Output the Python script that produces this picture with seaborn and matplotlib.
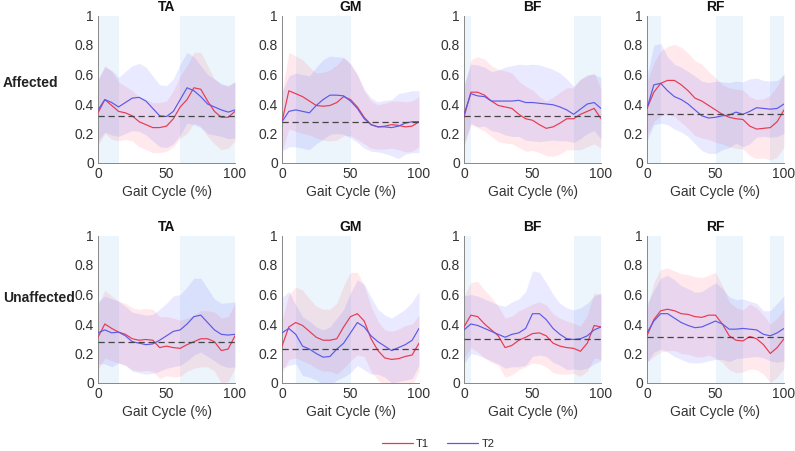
import numpy as np
import pandas as pd
import seaborn as sns
import matplotlib
matplotlib.use("Agg")
import matplotlib.pyplot as plt

# gait cycle samples (%)
cycle = [0, 5, 10, 15, 20, 25, 30, 35, 40, 45, 50, 55, 60, 65, 70, 75, 80, 85, 90, 95, 100]
muscles = ["TA", "GM", "BF", "RF"]
rows = ["Affected", "Unaffected"]

# ---- Affected ----
ta_aff_t1 = [0.34, 0.43, 0.39, 0.35, 0.34, 0.32, 0.28, 0.26, 0.24, 0.24, 0.25, 0.30, 0.38, 0.43, 0.51, 0.50, 0.42, 0.35, 0.31, 0.31, 0.35]
ta_aff_t1_sd = [0.22, 0.23, 0.23, 0.20, 0.18, 0.17, 0.17, 0.17, 0.17, 0.17, 0.17, 0.19, 0.21, 0.23, 0.24, 0.25, 0.24, 0.22, 0.22, 0.21, 0.20]
ta_aff_t2 = [0.36, 0.43, 0.41, 0.38, 0.41, 0.44, 0.445, 0.42, 0.37, 0.32, 0.315, 0.35, 0.43, 0.51, 0.49, 0.45, 0.40, 0.38, 0.36, 0.345, 0.36]
ta_aff_t2_sd = [0.21, 0.22, 0.22, 0.20, 0.21, 0.22, 0.23, 0.23, 0.22, 0.21, 0.21, 0.22, 0.24, 0.24, 0.23, 0.21, 0.20, 0.19, 0.18, 0.18, 0.19]

gm_aff_t1 = [0.28, 0.49, 0.47, 0.45, 0.42, 0.39, 0.385, 0.39, 0.41, 0.45, 0.43, 0.38, 0.31, 0.26, 0.245, 0.25, 0.26, 0.255, 0.245, 0.25, 0.28]
gm_aff_t1_sd = [0.20, 0.26, 0.255, 0.25, 0.23, 0.22, 0.23, 0.24, 0.255, 0.265, 0.245, 0.22, 0.18, 0.16, 0.15, 0.155, 0.16, 0.165, 0.17, 0.17, 0.17]
gm_aff_t2 = [0.28, 0.35, 0.36, 0.35, 0.34, 0.39, 0.43, 0.46, 0.46, 0.455, 0.42, 0.37, 0.30, 0.26, 0.245, 0.245, 0.24, 0.25, 0.27, 0.28, 0.28]
gm_aff_t2_sd = [0.20, 0.24, 0.25, 0.25, 0.25, 0.26, 0.27, 0.265, 0.26, 0.26, 0.25, 0.23, 0.20, 0.18, 0.17, 0.18, 0.19, 0.22, 0.21, 0.21, 0.21]

bf_aff_t1 = [0.31, 0.48, 0.48, 0.46, 0.42, 0.39, 0.38, 0.37, 0.33, 0.30, 0.29, 0.26, 0.235, 0.245, 0.27, 0.30, 0.30, 0.33, 0.35, 0.37, 0.30]
bf_aff_t1_sd = [0.20, 0.22, 0.24, 0.245, 0.24, 0.245, 0.245, 0.24, 0.225, 0.22, 0.205, 0.19, 0.185, 0.20, 0.21, 0.21, 0.21, 0.24, 0.24, 0.24, 0.20]
bf_aff_t2 = [0.33, 0.47, 0.455, 0.45, 0.42, 0.42, 0.42, 0.42, 0.425, 0.41, 0.41, 0.405, 0.40, 0.395, 0.38, 0.36, 0.33, 0.365, 0.40, 0.41, 0.37]
bf_aff_t2_sd = [0.20, 0.20, 0.21, 0.20, 0.20, 0.21, 0.23, 0.24, 0.245, 0.255, 0.26, 0.26, 0.25, 0.24, 0.23, 0.21, 0.19, 0.20, 0.20, 0.19, 0.21]

rf_aff_t1 = [0.37, 0.48, 0.54, 0.56, 0.56, 0.53, 0.49, 0.44, 0.42, 0.39, 0.36, 0.33, 0.31, 0.30, 0.295, 0.25, 0.23, 0.235, 0.24, 0.28, 0.36]
rf_aff_t1_sd = [0.18, 0.20, 0.22, 0.23, 0.245, 0.255, 0.255, 0.255, 0.25, 0.23, 0.22, 0.20, 0.20, 0.20, 0.20, 0.20, 0.20, 0.20, 0.22, 0.24, 0.25]
rf_aff_t2 = [0.37, 0.53, 0.54, 0.49, 0.45, 0.43, 0.40, 0.36, 0.32, 0.305, 0.31, 0.32, 0.325, 0.345, 0.33, 0.35, 0.375, 0.37, 0.365, 0.37, 0.40]
rf_aff_t2_sd = [0.22, 0.27, 0.27, 0.23, 0.22, 0.22, 0.22, 0.23, 0.235, 0.24, 0.245, 0.23, 0.22, 0.21, 0.22, 0.22, 0.20, 0.19, 0.19, 0.19, 0.20]

# ---- Unaffected ----
ta_una_t1 = [0.31, 0.40, 0.37, 0.345, 0.33, 0.30, 0.29, 0.295, 0.29, 0.24, 0.25, 0.24, 0.235, 0.26, 0.28, 0.30, 0.30, 0.28, 0.22, 0.23, 0.32]
ta_una_t1_sd = [0.22, 0.23, 0.22, 0.21, 0.21, 0.21, 0.21, 0.21, 0.21, 0.21, 0.20, 0.20, 0.19, 0.18, 0.18, 0.19, 0.19, 0.20, 0.22, 0.22, 0.22]
ta_una_t2 = [0.34, 0.36, 0.34, 0.345, 0.32, 0.28, 0.27, 0.26, 0.265, 0.29, 0.32, 0.35, 0.36, 0.40, 0.45, 0.46, 0.41, 0.36, 0.33, 0.325, 0.33]
ta_una_t2_sd = [0.21, 0.23, 0.23, 0.21, 0.20, 0.20, 0.20, 0.20, 0.20, 0.21, 0.22, 0.24, 0.24, 0.25, 0.26, 0.25, 0.23, 0.21, 0.21, 0.22, 0.22]

gm_una_t1 = [0.25, 0.38, 0.41, 0.39, 0.35, 0.31, 0.29, 0.29, 0.30, 0.38, 0.45, 0.47, 0.42, 0.30, 0.22, 0.17, 0.16, 0.165, 0.18, 0.19, 0.27]
gm_una_t1_sd = [0.18, 0.22, 0.24, 0.24, 0.22, 0.21, 0.21, 0.21, 0.24, 0.28, 0.30, 0.28, 0.24, 0.22, 0.20, 0.19, 0.19, 0.20, 0.21, 0.21, 0.19]
gm_una_t2 = [0.34, 0.37, 0.33, 0.25, 0.23, 0.20, 0.175, 0.18, 0.23, 0.27, 0.34, 0.41, 0.38, 0.32, 0.28, 0.25, 0.22, 0.24, 0.26, 0.29, 0.37]
gm_una_t2_sd = [0.24, 0.25, 0.20, 0.20, 0.19, 0.18, 0.185, 0.20, 0.21, 0.23, 0.27, 0.29, 0.29, 0.26, 0.22, 0.21, 0.22, 0.23, 0.24, 0.26, 0.25]

bf_una_t1 = [0.38, 0.46, 0.45, 0.40, 0.36, 0.32, 0.24, 0.255, 0.29, 0.31, 0.335, 0.34, 0.32, 0.27, 0.25, 0.24, 0.235, 0.215, 0.27, 0.39, 0.38]
bf_una_t1_sd = [0.21, 0.22, 0.24, 0.23, 0.22, 0.20, 0.20, 0.20, 0.20, 0.20, 0.20, 0.21, 0.21, 0.20, 0.19, 0.18, 0.17, 0.17, 0.19, 0.22, 0.22]
bf_una_t2 = [0.36, 0.40, 0.39, 0.37, 0.35, 0.33, 0.31, 0.33, 0.34, 0.37, 0.47, 0.47, 0.43, 0.37, 0.33, 0.30, 0.295, 0.30, 0.32, 0.36, 0.38]
bf_una_t2_sd = [0.23, 0.20, 0.20, 0.20, 0.20, 0.20, 0.21, 0.22, 0.23, 0.25, 0.29, 0.28, 0.25, 0.23, 0.21, 0.21, 0.20, 0.21, 0.22, 0.23, 0.23]

rf_una_t1 = [0.32, 0.43, 0.49, 0.50, 0.49, 0.47, 0.465, 0.45, 0.445, 0.46, 0.46, 0.40, 0.32, 0.29, 0.285, 0.315, 0.30, 0.26, 0.20, 0.24, 0.30]
rf_una_t1_sd = [0.18, 0.25, 0.28, 0.28, 0.27, 0.27, 0.27, 0.27, 0.27, 0.27, 0.29, 0.26, 0.23, 0.22, 0.21, 0.22, 0.21, 0.20, 0.20, 0.20, 0.20]
rf_una_t2 = [0.34, 0.42, 0.47, 0.47, 0.44, 0.41, 0.39, 0.375, 0.38, 0.40, 0.42, 0.40, 0.365, 0.365, 0.37, 0.365, 0.36, 0.33, 0.32, 0.34, 0.37]
rf_una_t2_sd = [0.20, 0.21, 0.24, 0.26, 0.26, 0.25, 0.25, 0.24, 0.24, 0.25, 0.26, 0.24, 0.22, 0.20, 0.20, 0.19, 0.18, 0.16, 0.17, 0.20, 0.22]

# dashed reference level per panel (row-major)
ref_levels = [0.32, 0.28, 0.32, 0.33, 0.28, 0.23, 0.30, 0.31]
# shaded gait-phase windows per muscle
phase_windows = [[(0, 15), (60, 100)], [(10, 50)], [(0, 5), (80, 100)], [(0, 10), (50, 70), (90, 100)]]

panels = [
    (ta_aff_t1, ta_aff_t1_sd, ta_aff_t2, ta_aff_t2_sd),
    (gm_aff_t1, gm_aff_t1_sd, gm_aff_t2, gm_aff_t2_sd),
    (bf_aff_t1, bf_aff_t1_sd, bf_aff_t2, bf_aff_t2_sd),
    (rf_aff_t1, rf_aff_t1_sd, rf_aff_t2, rf_aff_t2_sd),
    (ta_una_t1, ta_una_t1_sd, ta_una_t2, ta_una_t2_sd),
    (gm_una_t1, gm_una_t1_sd, gm_una_t2, gm_una_t2_sd),
    (bf_una_t1, bf_una_t1_sd, bf_una_t2, bf_una_t2_sd),
    (rf_una_t1, rf_una_t1_sd, rf_una_t2, rf_una_t2_sd),
]

sns.set_style("white")
plt.rcParams['font.family'] = ['Liberation Sans', 'DejaVu Sans']

red = "#E8394F"
blue = "#5A5AE8"
red_fill = "#FF5A70"
blue_fill = "#5A5AFF"
span_col = "#ECF4FC"

fig = plt.figure(figsize=(7.95, 4.51), dpi=100)
lefts = [98, 282, 464, 647]
bottoms = [163, 383]
W, H = 795, 451

for i, (t1, t1_sd, t2, t2_sd) in enumerate(panels):
    r, c = divmod(i, 4)
    ax = fig.add_axes([lefts[c] / W, (H - bottoms[r]) / H, 137 / W, 147.5 / H])
    df = pd.DataFrame({"cycle": cycle, "T1": t1, "T2": t2})
    for a, b in phase_windows[c]:
        ax.axvspan(a, b, color=span_col, lw=0, zorder=0)
    for col, sd, fc in [("T1", t1_sd, red_fill), ("T2", t2_sd, blue_fill)]:
        m = np.array(df[col])
        s = np.array(sd)
        ax.fill_between(df["cycle"], m - s, m + s, color=fc, alpha=0.13, lw=0, zorder=1)
    sns.lineplot(data=df, x="cycle", y="T1", color=red, lw=0.85, ax=ax, zorder=3)
    sns.lineplot(data=df, x="cycle", y="T2", color=blue, lw=0.85, ax=ax, zorder=3)
    ax.axhline(ref_levels[i], color="#444444", ls=(0, (5, 3)), lw=0.9, zorder=4)

    ax.set_xlim(0, 100)
    ax.set_ylim(0, 1)
    ax.set_xticks([0, 50, 100])
    ax.set_yticks([0, 0.2, 0.4, 0.6, 0.8, 1])
    ax.set_yticklabels(["0", "0.2", "0.4", "0.6", "0.8", "1"])
    ax.set_title(muscles[c], fontsize=10, fontweight="bold", pad=3, color="#111111")
    ax.set_xlabel("Gait Cycle (%)", fontsize=10, color="#333333", labelpad=3)
    ax.set_ylabel("")
    for side in ["top", "right"]:
        ax.spines[side].set_visible(False)
    for side in ["left", "bottom"]:
        ax.spines[side].set_color("#888888")
        ax.spines[side].set_linewidth(0.7)
    ax.tick_params(axis="both", labelsize=10, colors="#888888", labelcolor="#333333",
                   direction="in", length=2.5, width=0.6, pad=3)

fig.text(3 / W, 1 - 83 / H, rows[0], fontsize=10, fontweight="bold", va="center", ha="left", color="#222222")
fig.text(3 / W, 1 - 298 / H, rows[1], fontsize=10, fontweight="bold", va="center", ha="left", color="#222222")

handles = [plt.Line2D([], [], color=red, lw=0.9), plt.Line2D([], [], color=blue, lw=0.9)]
fig.legend(handles, ["T1", "T2"], loc="center", bbox_to_anchor=(438 / W, 1 - 444 / H), ncol=2,
           frameon=False, fontsize=8, handlelength=2.8, columnspacing=1.6, handletextpad=0.3)

fig.savefig("out.png", dpi=100)
